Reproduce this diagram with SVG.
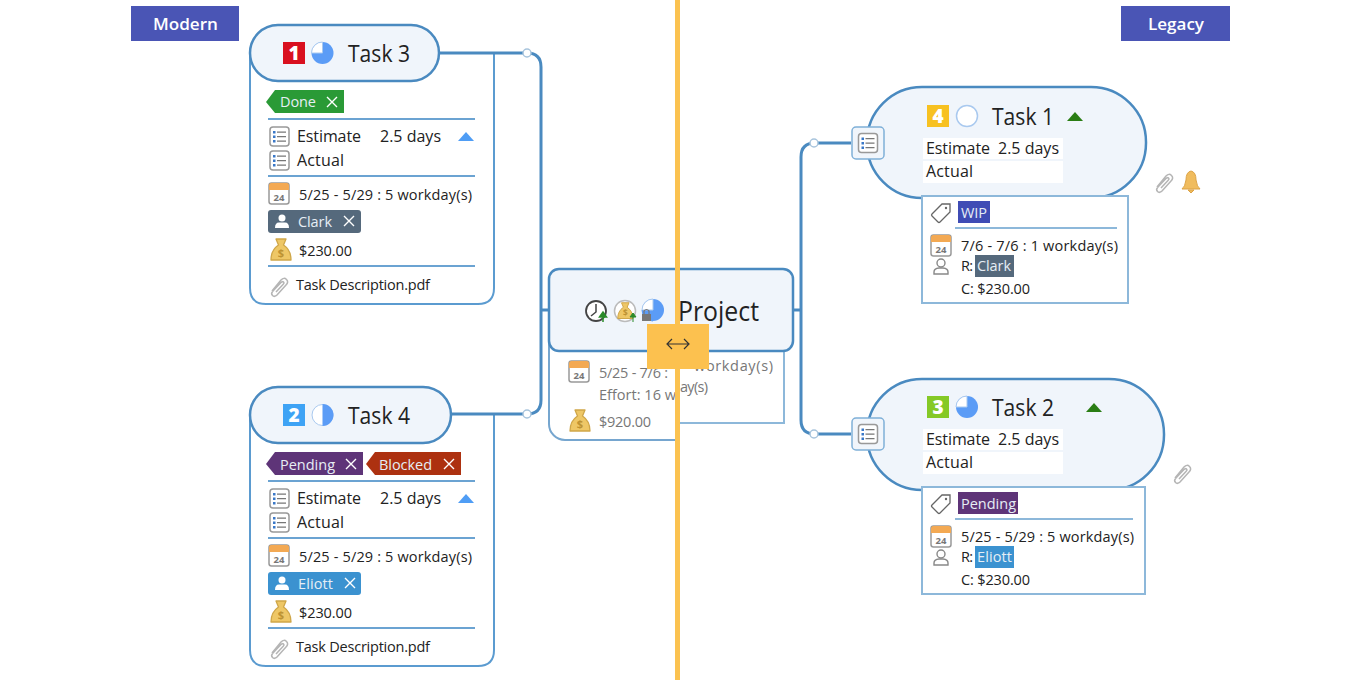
<svg xmlns="http://www.w3.org/2000/svg" width="1360" height="680" viewBox="0 0 1360 680">
<style>
text{font-family:"Open Sans","Noto Sans","Liberation Sans",sans-serif;fill:#222}
.t{font-size:24px}.m{font-size:16px}.s{font-size:14.5px}.g{fill:#777}
.wt{fill:#e6eef5}
.node{fill:#f0f5fb;stroke:#4a8ac0;stroke-width:2.5}
.card{fill:#fff;stroke:#5b9bd0;stroke-width:2}
.lcard{fill:#fff;stroke:#8db8da;stroke-width:2}
.sep{stroke:#6ba3d2;stroke-width:2}
.con{fill:none;stroke:#4a8ac0;stroke-width:3}
.dot{fill:#fff;stroke:#a8c4dc;stroke-width:1.5}
.row{fill:#fff}
.x{stroke:#fff;stroke-width:1.4;fill:none}
.tri{fill:#4f9df5}.gtri{fill:#2a7d14}
</style>
<defs>
<g id="list"><rect x="1" y="1" width="19" height="19" rx="3" fill="#fff" stroke="#999" stroke-width="1.500"/><g fill="#3a78c8"><rect x="4" y="5" width="2.500" height="2.500"/><rect x="4" y="9.500" width="2.500" height="2.500"/><rect x="4" y="14" width="2.500" height="2.500"/></g><path d="M8 6.200H17M8 10.700H17M8 15.200H17" stroke="#777" stroke-width="1.200"/></g>
<g id="cal"><rect x="1" y="1" width="20" height="21" rx="2.500" fill="#fff" stroke="#999" stroke-width="1.500"/><path d="M1 8V3.500Q1 1 3.500 1H18.500Q21 1 21 3.500V8Z" fill="#f3a953"/><text x="11" y="19" text-anchor="middle" style="font-size:9.500px;font-weight:700;fill:#777">24</text></g>
<g id="bag"><path d="M6 1H16L13.500 7Q21 12 21 22H1Q1 12 8.500 7Z" fill="#eec766" stroke="#cfa648" stroke-width="1.300" stroke-linejoin="round"/><text x="11" y="19" text-anchor="middle" style="font-size:11px;font-weight:700;fill:#bd9232">$</text></g>
<g id="clip"><path d="M3 15L12 4Q15 1 17.500 3.500Q20 6 17 9L8 19Q5.500 21.500 3.500 19.500Q1.500 17.500 4 15L12 6.500Q13.500 5 14.500 6Q15.500 7 14 8.500L7 16" fill="none" stroke="#b5b5b5" stroke-width="1.500"/></g>
<g id="person"><circle cx="8" cy="5" r="4" fill="none" stroke="#888" stroke-width="1.400"/><path d="M1 16V14Q1 10.500 6 10H10Q15 10.500 15 14V16Z" fill="none" stroke="#888" stroke-width="1.400"/></g>
<g id="tag"><path d="M1 11L11 1H19V9L9 19Q8 20 7 19L1 13Q0 12 1 11Z" fill="#fff" stroke="#666" stroke-width="1.300"/><circle cx="15" cy="5" r="1.200" fill="#666"/></g>
<g id="wp"><circle cx="7" cy="4" r="3.500" fill="#fff"/><path d="M0 14Q0 8.500 4 8.500H10Q14 8.500 14 14Z" fill="#fff"/></g>
<path id="xm" class="x" d="M0 0L10 10M10 0L0 10"/>
<clipPath id="lh"><rect x="0" y="0" width="675" height="680"/></clipPath>
</defs>
<rect width="1360" height="680" fill="#fff"/>

<g id="label-modern"><rect x="131" y="6" width="108" height="35" fill="#4a55b5"/><text x="153" y="30" textLength="65" lengthAdjust="spacingAndGlyphs" style="font-size:16px;font-weight:600;fill:#fff">Modern</text></g>
<g id="label-legacy"><rect x="1121" y="6" width="109" height="35" fill="#4a55b5"/><text x="1148" y="30" textLength="56" lengthAdjust="spacingAndGlyphs" style="font-size:16px;font-weight:600;fill:#fff">Legacy</text></g>

<g id="task3">
<path class="card" d="M250 53V288Q250 304 266 304H478Q494 304 494 288V53"/>
<rect class="node" x="250" y="25" width="189" height="56" rx="28"/>
<rect x="283" y="42" width="22" height="22" fill="#d9101f"/><text x="294" y="60" text-anchor="middle" style="font-size:19px;font-weight:800;fill:#fff">1</text>
<circle cx="322.500" cy="53" r="11" fill="#5b9cf6"/><path d="M322.500 53V42A11 11 0 0 0 311.500 53Z" fill="#fff" stroke="#a9c9ef"/>
<text class="t" x="348" y="62" textLength="62" lengthAdjust="spacingAndGlyphs">Task 3</text>
<path d="M266 102L275 90H344V113H275Z" fill="#2a9a36"/><text class="s wt" x="280" y="107" textLength="36">Done</text><use href="#xm" x="327" y="97"/>
<path class="sep" d="M268 119H475"/>
<use href="#list" x="269" y="126"/><text class="m" x="297" y="142" textLength="64">Estimate</text><text class="m" x="380" y="142" textLength="61">2.5 days</text>
<path class="tri" d="M458 141L466 132L474 141Z"/>
<use href="#list" x="269" y="150"/><text class="m" x="297" y="166" textLength="47">Actual</text>
<path class="sep" d="M268 176H475"/>
<use href="#cal" x="268" y="182"/><text class="s" x="299" y="200" textLength="173">5/25 - 5/29 : 5 workday(s)</text>
<rect x="268" y="210" width="93" height="23" rx="3" fill="#55697c"/><use href="#wp" x="275" y="214"/><text class="s wt" x="298" y="227" textLength="34">Clark</text><use href="#xm" x="344" y="216"/>
<use href="#bag" x="270" y="238"/><text class="s" x="299" y="256" textLength="53">$230.00</text>
<path class="sep" d="M268 266H475"/>
<use href="#clip" x="269" y="276"/><text class="s" x="296" y="290" textLength="134">Task Description.pdf</text>
</g>

<g id="task4">
<path class="card" d="M250 415V650Q250 666 266 666H478Q494 666 494 650V415"/>
<rect class="node" x="250" y="387" width="201" height="56" rx="28"/>
<rect x="283" y="404" width="22" height="22" fill="#3ea3f5"/><text x="294" y="422" text-anchor="middle" style="font-size:19px;font-weight:800;fill:#fff">2</text>
<circle cx="322.500" cy="415" r="10.500" fill="#fff" stroke="#a9c9ef"/><path d="M322.500 404A11 11 0 0 1 322.500 426Z" fill="#5b9cf6"/>
<text class="t" x="348" y="424" textLength="62" lengthAdjust="spacingAndGlyphs">Task 4</text>
<path d="M266 464L275 452H363V475H275Z" fill="#5e3478"/><text class="s wt" x="280" y="470" textLength="55">Pending</text><use href="#xm" x="346" y="459"/>
<path d="M366 464L375 452H461V475H375Z" fill="#ad3110"/><text class="s wt" x="379" y="470" textLength="53">Blocked</text><use href="#xm" x="444" y="459"/>
<path class="sep" d="M268 481H475"/>
<use href="#list" x="269" y="488"/><text class="m" x="297" y="504" textLength="64">Estimate</text><text class="m" x="380" y="504" textLength="61">2.5 days</text>
<path class="tri" d="M458 503L466 494L474 503Z"/>
<use href="#list" x="269" y="512"/><text class="m" x="297" y="528" textLength="47">Actual</text>
<path class="sep" d="M268 538H475"/>
<use href="#cal" x="268" y="544"/><text class="s" x="299" y="562" textLength="173">5/25 - 5/29 : 5 workday(s)</text>
<rect x="268" y="572" width="93" height="23" rx="3" fill="#3b92d0"/><use href="#wp" x="275" y="576"/><text class="s wt" x="298" y="589" textLength="35">Eliott</text><use href="#xm" x="345" y="578"/>
<use href="#bag" x="270" y="600"/><text class="s" x="299" y="618" textLength="53">$230.00</text>
<path class="sep" d="M268 628H475"/>
<use href="#clip" x="269" y="638"/><text class="s" x="296" y="652" textLength="134">Task Description.pdf</text>
</g>

<g id="project">
<rect x="675" y="348" width="109" height="75" fill="#fff" stroke="#8db8da" stroke-width="2"/>
<g clip-path="url(#lh)"><rect x="549" y="330" width="200" height="110" rx="16" fill="#fff" stroke="#76a6cf" stroke-width="2"/></g>
<rect class="node" x="549" y="269" width="244" height="82" rx="10"/>
<circle cx="596" cy="311" r="10" fill="#fff" stroke="#444" stroke-width="1.800"/><path d="M596 304V312L591 316" fill="none" stroke="#444" stroke-width="1.500"/><path d="M603 322V315M599.500 317L603 312L606.500 317Z" fill="#2a8a2a" stroke="#2a8a2a" stroke-width="1.500"/>
<circle cx="625" cy="311" r="10.500" fill="#fff" stroke="#bbb" stroke-width="1.500"/><use href="#bag" transform="translate(617 302) scale(.75)"/><path d="M633 322V316M630 317L633 313L636 317Z" fill="#2a8a2a" stroke="#2a8a2a"/>
<circle cx="653" cy="310" r="11" fill="#5b9cf6"/><path d="M653 310V299A11 11 0 0 0 642 310Z" fill="#fff" stroke="#a9c9ef"/><path d="M642 310A11 11 0 0 0 653 321" fill="none" stroke="#5b9cf6"/><rect x="642" y="314" width="9" height="7" fill="#777"/><path d="M644 314V311Q646.500 308 649 311V314" fill="none" stroke="#777" stroke-width="1.200"/>
<text x="678" y="321" textLength="81" lengthAdjust="spacingAndGlyphs" style="font-size:27px">Project</text>
<use href="#cal" x="568" y="360"/>
<g clip-path="url(#lh)"><text class="s g" x="599" y="378" textLength="69">5/25 - 7/6 :</text><text class="s g" x="599" y="400" textLength="77" lengthAdjust="spacingAndGlyphs">Effort: 16 w</text></g>
<text class="s g" x="694" y="371" textLength="79">workday(s)</text>
<text class="s g" x="680" y="392" textLength="28">ay(s)</text>
<use href="#bag" x="569" y="409"/><text class="s g" x="599" y="427" textLength="52">$920.00</text>
</g>

<g id="task1">
<rect class="node" x="867" y="87" width="279" height="111" rx="55"/>
<rect x="927" y="105" width="22" height="22" fill="#f7c121"/><text x="938" y="123" text-anchor="middle" style="font-size:19px;font-weight:800;fill:#fff">4</text>
<circle cx="967" cy="116" r="10.500" fill="#fff" stroke="#a9c9ef" stroke-width="1.500"/>
<text class="t" x="992" y="125" textLength="62" lengthAdjust="spacingAndGlyphs">Task 1</text>
<path class="gtri" d="M1067 121L1075 112L1083 121Z"/>
<rect class="row" x="923" y="138" width="140" height="21"/><text class="m" x="926" y="154" textLength="64">Estimate</text><text class="m" x="998" y="154" textLength="61">2.5 days</text>
<rect class="row" x="923" y="161" width="140" height="22"/><text class="m" x="926" y="177" textLength="47">Actual</text>
<rect x="852" y="127" width="32" height="32" rx="4" fill="#f0f5fb" stroke="#7fb0d8" stroke-width="1.500"/><use href="#list" x="857.500" y="132.500"/>
<rect class="lcard" x="922" y="196" width="206" height="107"/>
<use href="#tag" x="931" y="203"/>
<rect x="958" y="201" width="32" height="22" fill="#3f4cb5"/><text class="s wt" x="961" y="218" textLength="26">WIP</text>
<path class="sep" d="M955 228H1117" style="stroke:#8db8da"/>
<use href="#cal" x="930" y="234"/><text class="s" x="961" y="251" textLength="157">7/6 - 7/6 : 1 workday(s)</text>
<use href="#person" x="933" y="258"/><text class="s" x="961" y="271" textLength="12">R:</text>
<rect x="975" y="255" width="39" height="22" fill="#55697c"/><text class="s wt" x="977" y="271" textLength="34">Clark</text>
<text class="s" x="961" y="294" textLength="69">C: $230.00</text>
<use href="#clip" x="1154" y="172"/>
<path d="M1191 171Q1196 172 1196 180Q1197 187 1200 189H1182Q1185 187 1186 180Q1186 172 1191 171ZM1188 190H1194L1191 193Z" fill="#f0bc5e" stroke="#dca244"/>
</g>

<g id="task2">
<rect class="node" x="867" y="379" width="297" height="111" rx="55"/>
<rect x="927" y="396" width="22" height="22" fill="#85c926"/><text x="938" y="414" text-anchor="middle" style="font-size:19px;font-weight:800;fill:#fff">3</text>
<circle cx="967" cy="407" r="11" fill="#5b9cf6"/><path d="M967 407V396A11 11 0 0 0 956 407Z" fill="#fff" stroke="#a9c9ef"/>
<text class="t" x="992" y="416" textLength="62" lengthAdjust="spacingAndGlyphs">Task 2</text>
<path class="gtri" d="M1086 412L1094 403L1102 412Z"/>
<rect class="row" x="923" y="429" width="140" height="21"/><text class="m" x="926" y="445" textLength="64">Estimate</text><text class="m" x="998" y="445" textLength="61">2.5 days</text>
<rect class="row" x="923" y="452" width="140" height="22"/><text class="m" x="926" y="468" textLength="47">Actual</text>
<rect x="852" y="418" width="32" height="32" rx="4" fill="#f0f5fb" stroke="#7fb0d8" stroke-width="1.500"/><use href="#list" x="857.500" y="423.500"/>
<rect class="lcard" x="922" y="487" width="223" height="107"/>
<use href="#tag" x="931" y="494"/>
<rect x="958" y="492" width="60" height="22" fill="#5e3478"/><text class="s wt" x="961" y="509" textLength="55">Pending</text>
<path class="sep" d="M955 519H1133" style="stroke:#8db8da"/>
<use href="#cal" x="930" y="525"/><text class="s" x="961" y="542" textLength="173">5/25 - 5/29 : 5 workday(s)</text>
<use href="#person" x="933" y="549"/><text class="s" x="961" y="562" textLength="12">R:</text>
<rect x="975" y="546" width="39" height="22" fill="#3b92d0"/><text class="s wt" x="977" y="562" textLength="35">Eliott</text>
<text class="s" x="961" y="585" textLength="69">C: $230.00</text>
<use href="#clip" x="1172" y="463"/>
</g>

<g id="connectors">
<path class="con" d="M439 53H527Q541 53 541 67V400Q541 414 527 414H452"/>
<path class="con" d="M541 310H548"/>
<path class="con" d="M794 310H801"/>
<path class="con" d="M851 143H815Q801 143 801 157V420Q801 434 815 434H851"/>
<circle class="dot" cx="527" cy="53" r="4"/><circle class="dot" cx="527" cy="414" r="4"/>
<circle class="dot" cx="814" cy="143" r="4"/><circle class="dot" cx="814" cy="434" r="4"/>
</g>

<g id="divider">
<rect x="675" y="0" width="5" height="680" fill="#fbc250"/>
<rect x="647" y="324" width="62" height="45" fill="#fcc14f"/>
<path d="M668 344H688M672 339L667 344L672 349M684 339L689 344L684 349" fill="none" stroke="#333" stroke-width="1.200"/>
</g>
</svg>
